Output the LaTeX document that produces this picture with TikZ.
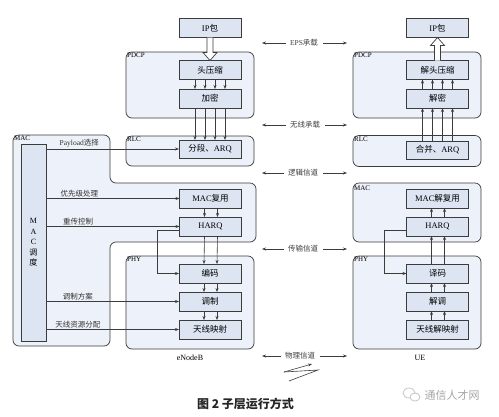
\documentclass[tikz,border=0pt]{standalone}
\usepackage{fontspec}
\setmainfont{Liberation Serif}
\newfontfamily\cjk{Noto Sans CJK SC}
\usetikzlibrary{arrows.meta,positioning,calc}
\definecolor{layerfill}{HTML}{EDF1F9}
\definecolor{boxfill}{HTML}{DDE5F3}
\definecolor{linegray}{HTML}{3C3C3C}
\newcommand{\zh}[1]{{\cjk #1}}

\begin{document}
\begin{tikzpicture}[x=1pt, y=-1pt,
  layer/.style={rectangle, draw=linegray, fill=layerfill, rounded corners=6pt,
                line width=0.7pt, inner sep=0pt, outer sep=0pt},
  fbox/.style={rectangle, draw=linegray, fill=boxfill, minimum width=62pt,
               minimum height=19pt, inner sep=0pt, outer sep=0pt,
               font=\fontsize{8.5}{10}\selectfont, line width=0.7pt},
  tag/.style={font=\fontsize{7}{8}\selectfont, anchor=north west, inner sep=1pt},
  note/.style={font=\fontsize{7.5}{9}\selectfont, text=black!80, inner sep=1.5pt},
  chan/.style={font=\fontsize{7.5}{9}\selectfont, text=black!75, inner sep=0pt},
  arr/.style={draw=linegray, -{Stealth[length=4pt,width=3pt]}, line width=0.6pt},
  hollow/.style={draw=linegray, fill=white, line width=0.7pt, line join=miter},
]
  \useasboundingbox[fill=white] (0,0) rectangle (499,416);

  % Layer containers
  \node[layer, minimum width=128pt, minimum height=66pt] (pdcpL) at (190,85) {};
  \node[layer, minimum width=128pt, minimum height=30pt] (rlcL) at (190,151) {};
  \node[layer, minimum width=128pt, minimum height=93pt] (phyL) at (190,302.5) {};
  \draw[layer] (13,135) -- (110,135) -- (110,183) -- (256,183) -- (256,242)
        -- (110,242) -- (110,346) -- (13,346) -- cycle;

  \node[layer, minimum width=128pt, minimum height=66pt] (pdcpR) at (417,85) {};
  \node[layer, minimum width=128pt, minimum height=31pt] (rlcR) at (417,151) {};
  \node[layer, minimum width=128pt, minimum height=59pt] (macR) at (417,212.5) {};
  \node[layer, minimum width=128pt, minimum height=93pt] (phyR) at (417,302.5) {};

  \node[tag] (tpdcpL) at (pdcpL.north west) {PDCP};
  \node[tag] (trlcL) at (rlcL.north west) {RLC};
  \node[tag] (tphyL) at (phyL.north west) {PHY};
  \node[tag] (tmacL) at (13,135) {MAC};
  \node[tag] (tpdcpR) at (pdcpR.north west) {PDCP};
  \node[tag] (trlcR) at (rlcR.north west) {RLC};
  \node[tag, yshift=-2pt] (tmacR) at (macR.north west) {MAC};
  \node[tag] (tphyR) at (phyR.north west) {PHY};

  % eNodeB
  \node[fbox] (ipL) at (210,28) {IP\zh{包}};
  \node[fbox] (hcL) at (210,70) {\zh{头压缩}};
  \node[fbox] (encL) at (210,98.5) {\zh{加密}};
  \node[fbox, minimum height=18pt] (segL) at (210,149) {\zh{分段、}ARQ};
  \node[fbox] (muxL) at (210.5,198.5) {MAC\zh{复用}};
  \node[fbox] (harqL) at (210.5,226.5) {HARQ};
  \node[fbox] (codL) at (210,273.5) {\zh{编码}};
  \node[fbox] (modL) at (210,301.5) {\zh{调制}};
  \node[fbox] (antL) at (210,329.5) {\zh{天线映射}};
  \node[fbox, minimum width=25pt, minimum height=197pt,
        font=\fontsize{8}{10.5}\selectfont, align=center] (sched) at (33.5,242.5)
        {M\\A\\C\\\zh{调}\\\zh{度}};

  % UE
  \node[fbox] (ipR) at (437.5,28) {IP\zh{包}};
  \node[fbox] (hcR) at (437.5,70) {\zh{解头压缩}};
  \node[fbox] (encR) at (437.5,98.5) {\zh{解密}};
  \node[fbox, minimum height=18pt] (segR) at (437.5,150) {\zh{合并、}ARQ};
  \node[fbox] (muxR) at (437.5,198.5) {MAC\zh{解复用}};
  \node[fbox] (harqR) at (437.5,226.5) {HARQ};
  \node[fbox] (decR) at (437.5,273.5) {\zh{译码}};
  \node[fbox] (demR) at (437.5,301.5) {\zh{解调}};
  \node[fbox] (antR) at (437.5,329.5) {\zh{天线解映射}};

  % hollow arrows at IP packets
  \draw[hollow] ([xshift=-3pt]ipL.south) -- ([xshift=-3pt,yshift=8pt]hcL.north)
        -- ([xshift=-7pt,yshift=8pt]hcL.north) -- (hcL.north)
        -- ([xshift=7pt,yshift=8pt]hcL.north) -- ([xshift=3pt,yshift=8pt]hcL.north)
        -- ([xshift=3pt]ipL.south);
  \draw[hollow] ([xshift=-3pt]hcR.north) -- ([xshift=-3pt,yshift=-8pt]ipR.south)
        -- ([xshift=-7pt,yshift=-8pt]ipR.south) -- (ipR.south)
        -- ([xshift=7pt,yshift=-8pt]ipR.south) -- ([xshift=3pt,yshift=-8pt]ipR.south)
        -- ([xshift=3pt]hcR.north);

  % data paths
  \foreach \dx in {-15,-5,5,15} {
    \draw[arr] ([xshift=\dx pt]hcL.south) -- ([xshift=\dx pt]encL.north);
    \draw[arr] ([xshift=\dx pt]encL.south) -- ([xshift=\dx pt]segL.north);
    \draw[arr] ([xshift=\dx pt]segR.north) -- ([xshift=\dx pt]encR.south);
    \draw[arr] ([xshift=\dx pt]encR.north) -- ([xshift=\dx pt]hcR.south);
  }
  \foreach \dx in {-6,7} {
    \draw[arr] ([xshift=\dx pt]muxL.south) -- ([xshift=\dx pt]harqL.north);
    \draw[arr] ([xshift=\dx pt]harqL.south) -- ([xshift=\dx pt]codL.north);
    \draw[arr] ([xshift=\dx pt]codL.south) -- ([xshift=\dx pt]modL.north);
    \draw[arr] ([xshift=\dx pt]modL.south) -- ([xshift=\dx pt]antL.north);
    \draw[arr] ([xshift=\dx pt]antR.north) -- ([xshift=\dx pt]demR.south);
    \draw[arr] ([xshift=\dx pt]demR.north) -- ([xshift=\dx pt]decR.south);
    \draw[arr] ([xshift=\dx pt]decR.north) -- ([xshift=\dx pt]harqR.south);
    \draw[arr] ([xshift=\dx pt]harqR.north) -- ([xshift=\dx pt]muxR.south);
  }
  \draw[arr] ([yshift=-4pt]harqL.west) -- ++(-22,0) |- (codL.west);
  \draw[arr] ([yshift=-4pt]harqR.west) -- ++(-22,0) |- (decR.west);

  % MAC scheduling
  \draw[arr] (sched.east |- segL) -- (segL.west)
        node[note, pos=0.25, above] (lpay) {Payload\zh{选择}};
  \draw[arr] (sched.east |- muxL) -- (muxL.west)
        node[note, pos=0.25, above] (lpri) {\zh{优先级处理}};
  \draw[arr] (sched.east |- harqL) -- (harqL.west)
        node[note, pos=0.24, above] (lret) {\zh{重传控制}};
  \draw[arr] (sched.east |- modL) -- (modL.west)
        node[note, pos=0.24, above] (lmod) {\zh{调制方案}};
  \draw[arr] (sched.east |- antL) -- (antL.west)
        node[note, pos=0.24, above] (lres) {\zh{天线资源分配}};

  % channels between the peers
  \node[chan] (eps) at (304,43) {EPS\zh{承载}};
  \node[chan] (rb) at (305,125) {\zh{无线承载}};
  \node[chan] (lch) at (303,173) {\zh{逻辑信道}};
  \node[chan] (tch) at (303,249) {\zh{传输信道}};
  \node[chan] (pch) at (300,356) {\zh{物理信道}};
  \foreach \c in {eps,rb,lch,tch,pch} {
    \draw[arr, shorten <=4pt, shorten >=8pt] (\c.west) -- (\c.west -| pdcpL.east);
    \draw[arr, shorten <=5pt, shorten >=6pt] (\c.east) -- (\c.east -| pdcpR.west);
  }

  % radio link
  \draw[arr] (284,372) -- (312,364);
  \draw[linegray, line width=0.6pt] (284,372) -- (318,370) -- (289,381);

  \node[font=\fontsize{8}{10}\selectfont] (enb) at (190,358) {eNodeB};
  \node[font=\fontsize{8}{10}\selectfont] (ue) at (420,358) {UE};

  \node[font=\cjk\bfseries\fontsize{12}{14}\selectfont, text=black!85] (cap)
        at (245.5,404) {图 2 子层运行方式};

  % watermark
  \draw[gray!45, line width=0.8pt] (409,393) ellipse (6 and 5);
  \draw[gray!45, line width=0.8pt, fill=white] (415,397) ellipse (5 and 4);
  \node[font=\cjk\fontsize{11}{13}\selectfont, text=gray!70] (wm) at (452,395) {通信人才网};
\end{tikzpicture}
\end{document}
